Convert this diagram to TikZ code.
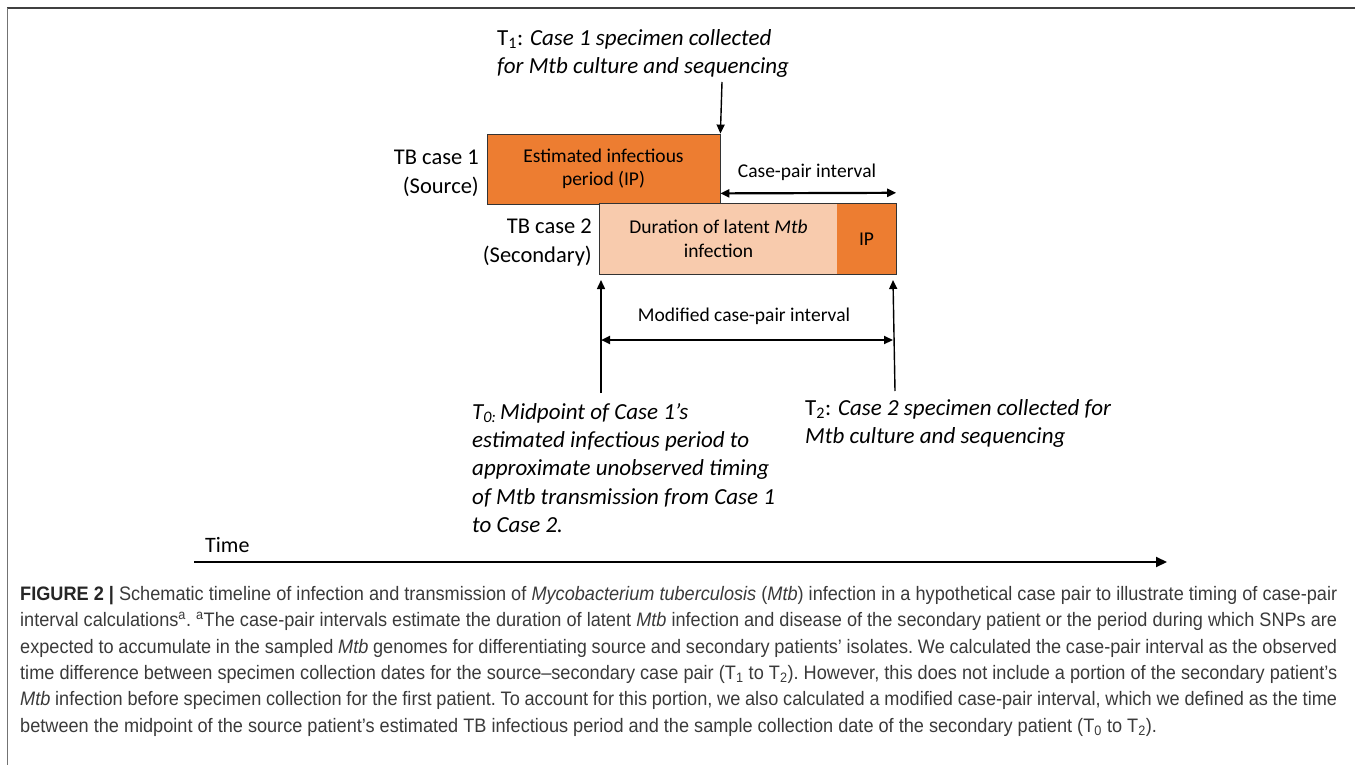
\documentclass[tikz,border=0pt]{standalone}
\usepackage{fontspec}
\usetikzlibrary{arrows.meta}
\newfontfamily\calib{Carlito}
\newfontfamily\capfont[FakeStretch=0.93]{Liberation Sans}
\definecolor{orng}{HTML}{ED7D31}
\definecolor{lightorng}{HTML}{F8CBAD}
\definecolor{captxt}{HTML}{3A3A3A}
\tikzset{
  arr/.style={line width=1.4pt, -{Triangle[length=9pt,width=8pt]}},
  dbl/.style={line width=2.2pt, {Triangle[length=9pt,width=8pt]}-{Triangle[length=9pt,width=8pt]}},
  boxtxt/.style={font=\calib\fontsize{19.5}{23.5}\selectfont, align=center, inner sep=0pt, text=black},
  casetxt/.style={font=\calib\fontsize{22.5}{29}\selectfont, align=right, inner sep=0pt},
  notetxt/.style={font=\calib\itshape\fontsize{23}{28.3}\selectfont, align=left, inner sep=0pt},
  bar/.style={draw=none, inner sep=0pt, minimum height=70pt},
  captionstyle/.style={font=\capfont\fontsize{19.5}{26.4}\selectfont\frenchspacing, text=captxt, align=left, inner sep=0pt, anchor=north west}
}
\begin{document}
\begin{tikzpicture}[x=1pt,y=-1pt]
\useasboundingbox (0,0) rectangle (1355,765);
% frame
\draw[line width=2pt, black!75] (7,8.5) -- (1355,8.5);
\draw[line width=1.5pt, black!55] (7.5,8) -- (7.5,765);

% bars
\node[bar, fill=orng, draw=black!80, line width=0.8pt, minimum width=233pt, boxtxt] (src) at (603.5,169) {Estimated infectious\\period (IP)};
\node[bar, fill=lightorng, minimum width=237pt, boxtxt] (latent) at (718.5,239) {Duration of latent \textit{Mtb}\\infection};
\node[bar, fill=orng, minimum width=59pt, boxtxt] (ipbox) at (866.5,239) {IP};
\draw[black!80, line width=0.8pt] (latent.north west) rectangle (ipbox.south east);

% case labels
\node[casetxt, anchor=east] (case1) at (479,173) {TB case 1\\(Source)};
\node[casetxt, anchor=east] (case2) at (592,243) {TB case 2\\(Secondary)};

% notes
\node[notetxt, anchor=north west] (t1note) at (497,29) {\textup{T\textsubscript{1}:} Case 1 specimen collected\\for Mtb culture and sequencing};
\node[notetxt, anchor=north west] (t0note) at (472,403) {T\textsubscript{0:}\,Midpoint of Case 1’s\\estimated infectious period to\\approximate unobserved timing\\of Mtb transmission from Case 1\\to Case 2.};
\node[notetxt, anchor=north west] (t2note) at (805,399) {\textup{T\textsubscript{2}:} Case 2 specimen collected for\\Mtb culture and sequencing};

% T1 arrow
\coordinate (t1start) at (722,82);
\draw[arr] (t1start) -- (src.north east);

% case-pair interval
\draw[dbl] ([yshift=11pt]src.south east) -- ([yshift=11pt]ipbox.north east);
\node[boxtxt] (cplabel) at (807,172) {Case-pair interval};

% up arrows
\coordinate (t0foot) at (601,393);
\coordinate (t0tip) at (601,280);
\coordinate (t2foot) at (895,391);
\coordinate (t2tip) at (893,280);
\draw[arr] (t0foot) -- (t0tip);
\draw[arr] (t2foot) -- (t2tip);

% modified interval
\coordinate (m0) at (601,340);
\coordinate (m2) at (893,340);
\draw[dbl] (m0) -- (m2);
\node[boxtxt] (mlabel) at (744,316) {Modified case-pair interval};

% time axis
\coordinate (tstart) at (194,562);
\coordinate (tend) at (1167,562);
\draw[line width=2pt, -{Triangle[length=11pt,width=10pt]}] (tstart) -- (tend);
\node[font=\calib\fontsize{22}{26}\selectfont, inner sep=0pt, anchor=west] (timelbl) at (205,545) {Time};

% caption
\node[captionstyle] (caption) at (20,586) {%
\makebox[1317pt][s]{{\color{black!85}\textbf{FIGURE 2 |}} Schematic timeline of infection and transmission of \textit{Mycobacterium tuberculosis} (\textit{Mtb}) infection in a hypothetical case pair to illustrate timing of case-pair}\\
\makebox[1317pt][s]{interval calculations\textsuperscript{a}. \textsuperscript{a}The case-pair intervals estimate the duration of latent \textit{Mtb} infection and disease of the secondary patient or the period during which SNPs are}\\
\makebox[1317pt][s]{expected to accumulate in the sampled \textit{Mtb} genomes for differentiating source and secondary patients’ isolates. We calculated the case-pair interval as the observed}\\
\makebox[1317pt][s]{time difference between specimen collection dates for the source–secondary case pair (T\textsubscript{1} to T\textsubscript{2}). However, this does not include a portion of the secondary patient’s}\\
\makebox[1317pt][s]{\textit{Mtb} infection before specimen collection for the first patient. To account for this portion, we also calculated a modified case-pair interval, which we defined as the time}\\
between the midpoint of the source patient’s estimated TB infectious period and the sample collection date of the secondary patient (T\textsubscript{0} to T\textsubscript{2}).};
\end{tikzpicture}
\end{document}
